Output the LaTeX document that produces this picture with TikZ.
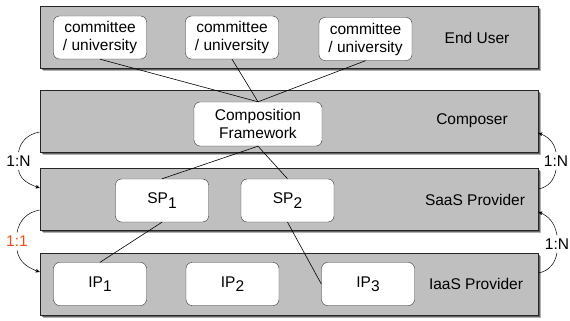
\documentclass[tikz,border=0pt]{standalone}
\usepackage{fontspec}
\setmainfont{Liberation Sans}
\usetikzlibrary{positioning, arrows, shadows}

\definecolor{layergray}{RGB}{191,191,191}
\definecolor{ratiored}{RGB}{232,80,30}
\newcommand{\lowidx}[1]{\raisebox{-0.55ex}{#1}}

\begin{document}
\begin{tikzpicture}[x=1pt,y=1pt,font=\fontsize{15.5}{18}\selectfont,
    layer/.style={rectangle,draw=black!85,line width=0.7pt,fill=layergray,minimum width=498pt,minimum height=62pt,inner sep=0pt,
        general shadow={shadow xshift=2.5pt,shadow yshift=-3pt,fill=black,opacity=0.3},
        general shadow={shadow xshift=1.5pt,shadow yshift=-2pt,fill=black,opacity=0.45}},
    unit/.style={rectangle,rounded corners=6pt,draw=black!80,fill=white,align=center,
        minimum width=93pt,minimum height=43pt,inner sep=1pt},
    link/.style={draw,black,line width=0.6pt},
    ratio/.style={draw,black,line width=0.5pt}]
        \useasboundingbox (0,0) rectangle (570,321);

        % the four layers
        \node[layer](user) at (289,284){};
        \node[layer](composer) at (289,200){};
        \node[layer](saas) at (289,121.5){};
        \node[layer](iaas) at (289,37){};

        \node(userlbl) at (477,283){End User};
        \node(composerlbl) at (472,200){Composer};
        \node(saaslbl) at (475,121){SaaS Provider};
        \node(iaaslbl) at (476,37){IaaS Provider};

        % boxes inside the layers
        \node[unit](cu1) at (100,283.5){committee\\/ university};
        \node[unit](cu2) at (232,283.5){committee\\/ university};
        \node[unit](cu3) at (365.5,282){committee\\/ university};
        \node[unit,minimum width=128pt,minimum height=44pt](cf) at (258,197){Composition\\Framework};
        \node[unit](sp1) at (162,120.5){SP\lowidx{1}};
        \node[unit](sp2) at (287.5,120.5){SP\lowidx{2}};
        \node[unit](ip1) at (100,37){IP\lowidx{1}};
        \node[unit](ip2) at (232.5,37){IP\lowidx{2}};
        \node[unit](ip3) at (368,37){IP\lowidx{3}};

        \path[link]
        (cu1.south) edge (cf.north)
        (cu2.south) edge (cf.north)
        (cu3.south) edge (cf.north)
        (cf.south) edge (sp1.north)
        (cf.south) edge (sp2.north)
        (sp1.south) edge (ip1.north)
        (sp2.south) edge (ip3.west);

        % cardinalities
        \node(lnA) at (18.5,160){1:N};
        \node[text=ratiored](lnB) at (17,79.5){1:1};
        \node(rnA) at (556,160){1:N};
        \node(rnB) at (557,77){1:N};

        \draw[ratio] ([yshift=-11pt]composer.west) to[out=190,in=80] (lnA.north);
        \draw[ratio,-stealth'] (lnA.south) to[out=-80,in=160] ([yshift=11.5pt]saas.west);
        \draw[ratio] ([yshift=-10.5pt]saas.west) to[out=190,in=80] (lnB.north);
        \draw[ratio,-stealth'] (lnB.south) to[out=-80,in=160] ([yshift=12pt]iaas.west);

        \draw[ratio,-stealth'] (rnA.north) to[out=100,in=-20] ([yshift=-12pt]composer.east);
        \draw[ratio] (rnA.south) to[out=-100,in=10] ([yshift=10.5pt]saas.east);
        \draw[ratio,-stealth'] (rnB.north) to[out=100,in=-20] ([yshift=-12.5pt]saas.east);
        \draw[ratio] (rnB.south) to[out=-100,in=10] ([yshift=11pt]iaas.east);
    \end{tikzpicture}
\end{document}
